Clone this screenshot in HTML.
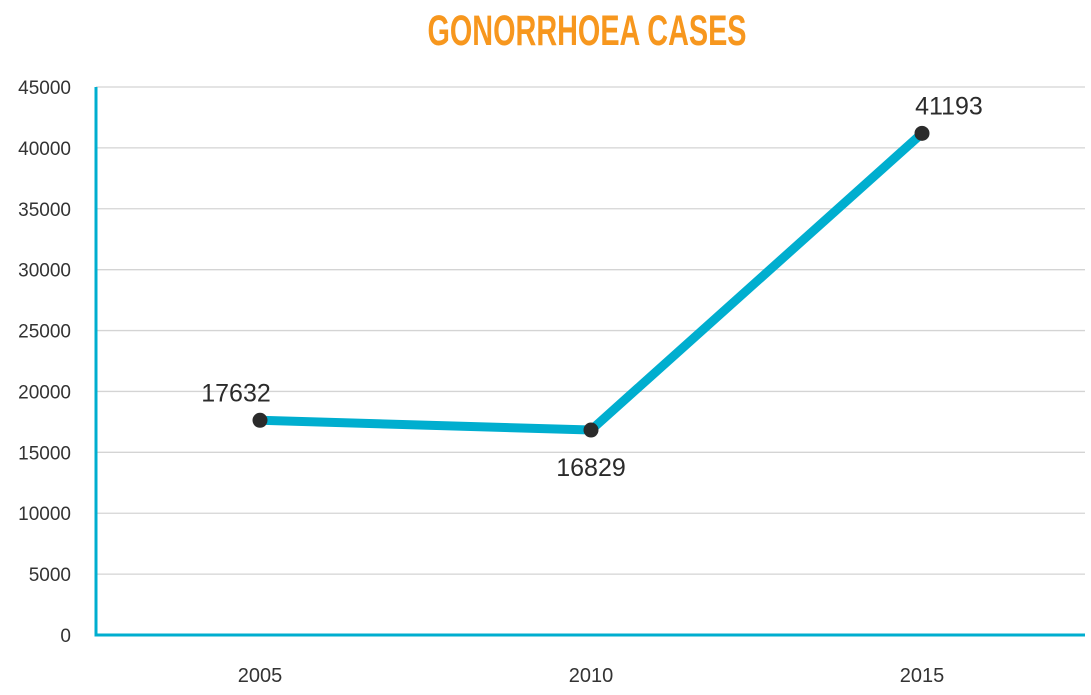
<!DOCTYPE html>
<html><head><meta charset="utf-8"><style>
html,body{margin:0;padding:0;background:#fff;}
svg{display:block;font-family:"Liberation Sans",sans-serif;}
</style></head><body>
<svg id="chart" width="1091" height="695">
<text x="587" y="45" text-anchor="middle" font-family="Liberation Sans Narrow, Liberation Sans, sans-serif" font-weight="bold" font-size="43" fill="#F7971E" textLength="319" lengthAdjust="spacingAndGlyphs">GONORRHOEA CASES</text>
<g id="grid"></g>
<g id="yt"></g>
<g id="xt"></g>
<g id="series"></g>
</svg>
<script>
const categories=["2005","2010","2015"];
const values=[17632,16829,41193];
const yTicks=[0,5000,10000,15000,20000,25000,30000,35000,40000,45000];
const NS="http://www.w3.org/2000/svg";
const x0=96,x1=1085,y0=635,yTop=87,yMax=45000;
const xPos=[260,590,922];
function xs(i){return xPos[0]+i*(xPos[2]-xPos[0])/(categories.length-1);}
function ys(v){return y0-(v/yMax)*(y0-yTop);}
function mk(tag,attrs,parent){const e=document.createElementNS(NS,tag);for(const k in attrs)e.setAttribute(k,attrs[k]);parent.appendChild(e);return e;}
const grid=document.getElementById('grid'),yt=document.getElementById('yt'),xt=document.getElementById('xt'),se=document.getElementById('series');
yTicks.forEach(t=>{
  if(t>0){const l=mk('line',{x1:x0,x2:x1,y1:ys(t),y2:ys(t),stroke:'#d4d4d4','stroke-width':1.3},grid);
  
  }
  const tx=mk('text',{x:71,y:ys(t)+7,'text-anchor':'end','font-size':19,fill:'#333'},yt);
  tx.textContent=t;
  
  
});
const ax=mk('line',{x1:x0,x2:x0,y1:yTop,y2:y0+1,stroke:'#00AECF','stroke-width':3},grid);


const bx=mk('line',{x1:x0-1.5,x2:x1,y1:y0,y2:y0,stroke:'#00AECF','stroke-width':3},grid);


categories.forEach((c,i)=>{
  const tx=mk('text',{x:xs(i),y:682,'text-anchor':'middle','font-size':20,fill:'#333'},xt);
  tx.textContent=c;
  
  
});
const pl=mk('polyline',{points:values.map((v,i)=>xs(i)+','+ys(v)).join(' '),fill:'none',stroke:'#00AECF','stroke-width':9,'stroke-linejoin':'round'},se);


values.forEach((v,i)=>{
  const c=mk('circle',{cx:xs(i),cy:ys(v),r:7.5,fill:'#2b2b2b'},se);
  
  
  const below=i>0&&i<values.length-1&&v<values[i-1];
  const tx=mk('text',{x:xs(i)-(below?0:(i==0?24:-27)),y:below?ys(v)+46:ys(v)-19,'text-anchor':'middle','font-size':25,fill:'#2b2b2b'},se);
  tx.textContent=v;
  
  
});
</script>
</body></html>
